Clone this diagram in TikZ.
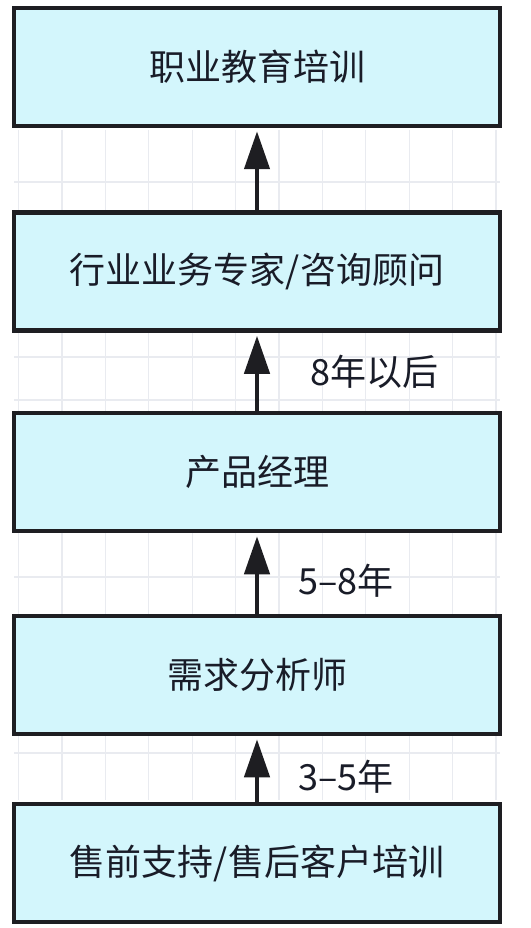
\documentclass[tikz,border=0pt]{standalone}
\usepackage{fontspec}
\setmainfont{Noto Sans CJK SC}
\usetikzlibrary{arrows.meta}

\definecolor{boxfill}{RGB}{211,246,252}
\definecolor{boxline}{RGB}{30,30,34}
\definecolor{gridline}{RGB}{233,235,240}
\definecolor{inkcol}{RGB}{25,28,40}

\begin{document}
\begin{tikzpicture}[x=1pt,y=-1pt,
    box/.style={draw=boxline,fill=boxfill,line width=4.5pt,minimum width=486pt,
        minimum height=118pt,inner sep=0pt,text=inkcol,font=\fontsize{36}{42}\selectfont},
    up/.style={draw=boxline,line width=4.5pt,shorten >=3pt,
        -{Triangle[length=38pt,width=25pt]}},
    years/.style={anchor=west,inner sep=0pt,text=inkcol,font=\fontsize{36}{42}\selectfont}]

        % Page
        \fill[white] (0,0) rectangle (530,928);
        \useasboundingbox (0,0) rectangle (530,928);

        % Background grid
        \foreach \i in {0,...,11}
            \draw[gridline,line width=1.2pt] (18.5+43.4*\i,130) -- (18.5+43.4*\i,800);
        \foreach \y in {182,357,400,577,753}
            \draw[gridline,line width=1.2pt] (14,\y) -- (500,\y);

        % Boxes
        \node[box] (zyjy) at (257,67) {职业教育培训};
        \node[box] (zjgw) at (257,271.5) {行业业务专家/咨询顾问};
        \node[box] (cpjl) at (257,472) {产品经理};
        \node[box] (xqfx) at (257,675) {需求分析师};
        \node[box] (sqsh) at (257,863) {售前支持/售后客户培训};

        % Arrows
        \draw[up] (zjgw.north) -- (zyjy.south);
        \draw[up] (cpjl.north) -- (zjgw.south);
        \draw[up] (xqfx.north) -- (cpjl.south);
        \draw[up] (sqsh.north) -- (xqfx.south);

        % Labels
        \node[years] (y8) at (310,372) {8年以后};
        \node[years] (y58) at (298,581) {5–8年};
        \node[years] (y35) at (298,777) {3–5年};

    \end{tikzpicture}
\end{document}
